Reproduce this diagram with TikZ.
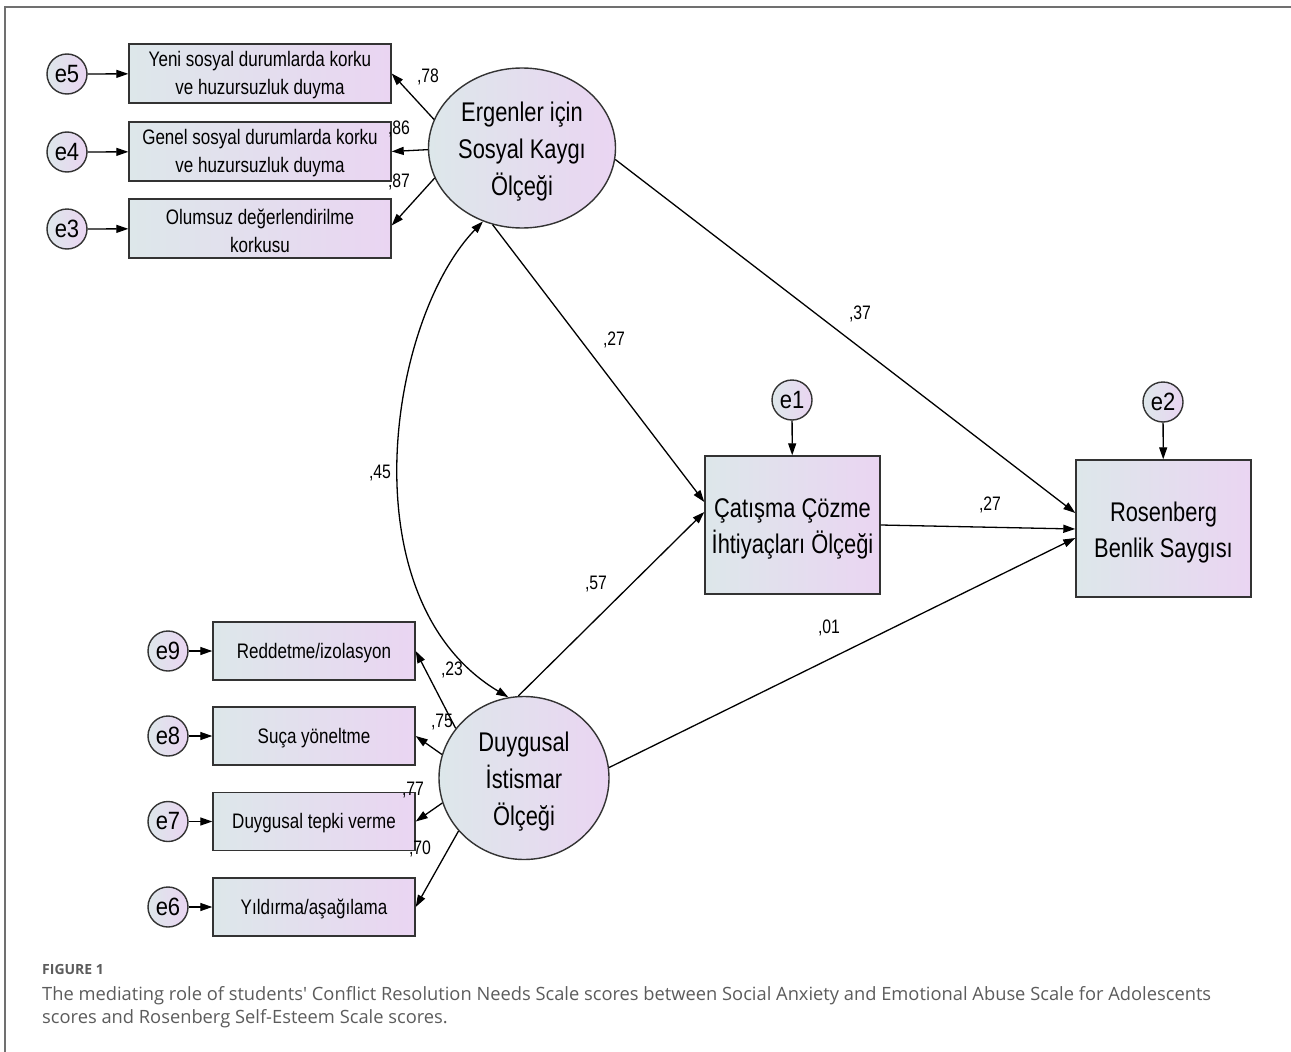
\documentclass[tikz,border=0pt]{standalone}
\usepackage{fontspec}
\setmainfont{Liberation Sans}
\newfontfamily\nar{Liberation Sans}[FakeStretch=0.81]
\newfontfamily\narE{Liberation Sans}[FakeStretch=0.88]
\newfontfamily\capfont{Open Sans}
\usetikzlibrary{arrows.meta,shapes.geometric}
\definecolor{bl}{HTML}{DDE7EA}
\definecolor{lv}{HTML}{EAD5F2}
\definecolor{bd}{HTML}{333333}
\definecolor{capgray}{HTML}{5C5C5C}
\definecolor{framegray}{HTML}{707070}
\begin{document}
\begin{tikzpicture}[x=1pt,y=-1pt,
  obsbox/.style={draw=bd, line width=1.4pt, left color=bl, right color=lv,
    minimum width=262pt, minimum height=59pt, inner sep=0pt},
  smallbox/.style={obsbox, minimum width=202pt, minimum height=58pt},
  boxtext/.style={align=center, inner sep=0pt, yshift=-2pt,
    font=\nar\fontsize{21}{28}\selectfont},
  bigbox/.style={draw=bd, line width=1.4pt, left color=bl, right color=lv,
    minimum width=175pt, minimum height=138pt, inner sep=0pt},
  bigtext/.style={align=center, inner sep=0pt, yshift=-4pt,
    font=\nar\fontsize{27}{36}\selectfont},
  latent/.style={ellipse, draw=bd, line width=1.4pt, left color=bl, right color=lv,
    inner sep=0pt},
  lattext/.style={align=center, inner sep=0pt, yshift=-4pt,
    font=\nar\fontsize{27}{37}\selectfont},
  errc/.style={circle, draw=bd, line width=1.4pt, left color=bl, right color=lv,
    minimum size=40pt, inner sep=0pt, font=\narE\fontsize{25}{25}\selectfont},
  conn/.style={-{Triangle[length=12pt,width=8pt]}, line width=1.3pt},
  lab/.style={inner sep=0pt, font=\nar\fontsize{19.5}{19.5}\selectfont},
  captxt/.style={anchor=base west, inner sep=0pt, text=capgray}
]
\useasboundingbox (0,0) rectangle (1291,1052);
\fill[white] (0,0) rectangle (1291,1052);
% frame
\draw[framegray, line width=1.5pt] (5,1052) -- (5,7) -- (1291,7);

% top indicators
\node[obsbox, label={[boxtext]center:Yeni sosyal durumlarda korku\\ve huzursuzluk duyma}] (b1) at (260,73.5) {};
\node[obsbox, label={[boxtext]center:Genel sosyal durumlarda korku\\ve huzursuzluk duyma}] (b2) at (260,151.5) {};
\node[obsbox, label={[boxtext]center:Olumsuz değerlendirilme\\korkusu}] (b3) at (260,228.5) {};
\node[errc] (e5) at (67,74) {e5};
\node[errc] (e4) at (67,152) {e4};
\node[errc] (e3) at (67,229) {e3};

% bottom indicators
\node[smallbox, label={[boxtext]center:Reddetme/izolasyon}] (b9) at (314,651) {};
\node[smallbox, label={[boxtext]center:Suça yöneltme}] (b8) at (314,736) {};
\node[smallbox, label={[boxtext]center:Duygusal tepki verme}] (b7) at (314,821.5) {};
\node[smallbox, label={[boxtext]center:Yıldırma/aşağılama}] (b6) at (314,907) {};
\node[errc] (e9) at (168,651) {e9};
\node[errc] (e8) at (168,736) {e8};
\node[errc] (e7) at (168,821.5) {e7};
\node[errc] (e6) at (168,907) {e6};

% latent variables
\node[latent, minimum width=187pt, minimum height=160pt,
  label={[lattext]center:Ergenler için\\Sosyal Kaygı\\Ölçeği}] (E1) at (522,148) {};
\node[latent, minimum width=170pt, minimum height=163pt,
  label={[lattext]center:Duygusal\\İstismar\\Ölçeği}] (E2) at (524,778) {};

% mediator and outcome
\node[bigbox, label={[bigtext]center:Çatışma Çözme\\İhtiyaçları Ölçeği}] (C) at (792.5,525) {};
\node[bigbox, minimum height=137pt, label={[bigtext]center:Rosenberg\\Benlik Saygısı}] (R) at (1163.5,528.5) {};
\node[errc] (e1) at (792,400) {e1};
\node[errc] (e2) at (1163,402) {e2};

% error arrows
\foreach \e/\b in {e5/b1,e4/b2,e3/b3,e9/b9,e8/b8,e7/b7,e6/b6}
  \draw[conn] (\e) -- (\b);
\draw[conn] (e1) -- (C);
\draw[conn] (e2) -- (R);

% loadings
\draw[conn] (E1.162.5) -- (b1.east);
\draw[conn] (E1.181) -- (b2.east);
\draw[conn] (E1.199.6) -- ([yshift=3pt]b3.east);
\draw[conn] (E2.144.8) -- (b9.east);
\draw[conn] (E2.164.3) -- (b8.east);
\draw[conn] (E2.197) -- (b7.east);
\draw[conn] (E2.219.4) -- (b6.east);

% structural paths
\draw[conn] (E1.249.4) -- ([yshift=23pt]C.west);
\draw[conn] (E2.94.2) -- ([yshift=13pt]C.west);
\draw[conn] (E1.353.9) -- ([yshift=15.5pt]R.west);
\draw[conn] (C.east) -- ([yshift=-0.5pt]R.west);
\draw[conn] (E2.7.5) -- ([yshift=-9.5pt]R.west);

% covariance
\draw[{Triangle[length=12pt,width=8pt]}-{Triangle[length=12pt,width=8pt]}, line width=1.3pt]
  (E1.242.2) .. controls (388,320) and (346,600) .. (E2.101.3);

% labels
\node[lab] (l78) at (428,77) {,78};
\node[lab] (l86) at (399,129) {,86};
\node[lab] (l87) at (399,182) {,87};
\node[lab] (l37) at (860,314) {,37};
\node[lab] (l27a) at (614,340) {,27};
\node[lab] (l45) at (380,473) {,45};
\node[lab] (l57) at (596,584) {,57};
\node[lab] (l01) at (829,628) {,01};
\node[lab] (l27b) at (990,505) {,27};
\node[lab] (l23) at (452,670) {,23};
\node[lab] (l75) at (442,722) {,75};
\node[lab] (l77) at (413,790) {,77};
\node[lab] (l70) at (420,849) {,70};

% caption
\node[captxt, font=\capfont\bfseries\fontsize{14}{16}\selectfont] (fig) at (42,974) {FIGURE 1};
\node[captxt, font=\capfont\fontsize{18.3}{22}\selectfont] (cap1) at (42,1000) {The mediating role of students' Conflict Resolution Needs Scale scores between Social Anxiety and Emotional Abuse Scale for Adolescents};
\node[captxt, font=\capfont\fontsize{18.3}{22}\selectfont] (cap2) at (42,1023) {scores and Rosenberg Self-Esteem Scale scores.};
\end{tikzpicture}
\end{document}
